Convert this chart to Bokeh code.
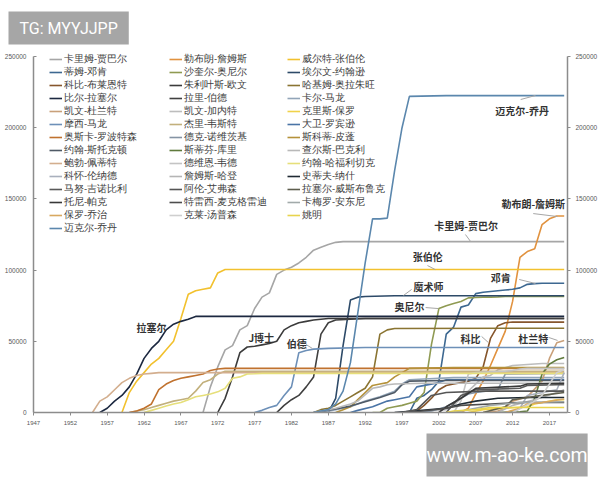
from bokeh.plotting import figure
from bokeh.models import (Range1d, LinearAxis, FixedTicker, Legend, LegendItem,
                          Label, Title, BasicTickFormatter)
from bokeh.embed import file_html
from bokeh.resources import INLINE

# ---------------- data ----------------
players = [
    "卡里姆-贾巴尔", "勒布朗-詹姆斯", "威尔特-张伯伦",
    "蒂姆-邓肯", "沙奎尔-奥尼尔", "埃尔文-约翰逊",
    "科比-布莱恩特", "朱利叶斯-欧文", "哈基姆-奥拉朱旺",
    "比尔-拉塞尔", "拉里-伯德", "卡尔-马龙",
    "凯文-杜兰特", "凯文-加内特", "克里斯-保罗",
    "摩西-马龙", "杰里-韦斯特", "大卫-罗宾逊",
    "奥斯卡-罗波特森", "德克-诺维茨基", "斯科蒂-皮蓬",
    "约翰-斯托克顿", "斯蒂芬-库里", "查尔斯-巴克利",
    "鲍勃-佩蒂特", "德维恩-韦德", "约翰-哈福利切克",
    "科怀-伦纳德", "詹姆斯-哈登", "史蒂夫-纳什",
    "马努-吉诺比利", "阿伦-艾弗森", "拉塞尔-威斯布鲁克",
    "托尼-帕克", "特雷西-麦克格雷迪", "卡梅罗-安东尼",
    "保罗-乔治", "克莱-汤普森", "姚明",
    "迈克尔-乔丹",
]

series_years = [
    [1970, 1971, 1972, 1973, 1974, 1975, 1976, 1977, 1978, 1979, 1980, 1981, 1982, 1983, 1984, 1985, 1986, 1987, 1988, 1989, 2019],
    [2004, 2005, 2006, 2007, 2008, 2009, 2010, 2011, 2012, 2013, 2014, 2015, 2016, 2017, 2018, 2019],
    [1959, 1960, 1961, 1962, 1963, 1964, 1965, 1966, 1967, 1968, 1969, 1970, 1971, 1972, 1973, 2019],
    [1998, 1999, 2000, 2001, 2002, 2003, 2004, 2005, 2006, 2007, 2008, 2009, 2010, 2011, 2012, 2013, 2014, 2015, 2016, 2019],
    [1993, 1994, 1995, 1996, 1997, 1998, 1999, 2000, 2001, 2002, 2003, 2004, 2005, 2006, 2007, 2008, 2009, 2010, 2011, 2019],
    [1987, 1988, 1989, 1990, 1991, 1992, 1996, 2019],
    [1997, 1998, 1999, 2000, 2001, 2002, 2003, 2004, 2005, 2006, 2007, 2008, 2009, 2010, 2011, 2012, 2019],
    [1972, 1973, 1974, 1975, 1976, 1977, 1978, 1979, 1980, 1981, 1982, 1983, 1984, 1985, 1986, 1987, 2019],
    [1985, 1986, 1987, 1988, 1989, 1990, 1991, 1992, 1993, 1994, 1995, 1996, 2019],
    [1956, 1957, 1958, 1959, 1960, 1961, 1962, 1963, 1964, 1965, 1966, 1967, 1968, 1969, 2019],
    [1980, 1981, 1982, 1983, 1984, 1985, 1986, 1987, 1988, 1992, 2019],
    [1986, 1988, 1990, 1992, 1994, 1996, 1997, 1998, 2000, 2004, 2019],
    [2008, 2010, 2011, 2012, 2014, 2016, 2017, 2018, 2019],
    [1996, 2003, 2004, 2008, 2009, 2010, 2012, 2016, 2019],
    [2006, 2008, 2014, 2015, 2018, 2019],
    [1977, 1978, 1979, 1980, 1981, 1982, 1983, 1984, 1985, 1987, 1992, 2019],
    [1960, 1961, 1962, 1963, 1964, 1965, 1966, 1967, 1968, 1969, 1970, 1971, 1972, 1973, 1974, 2019],
    [1990, 1991, 1993, 1995, 1996, 1998, 1999, 2002, 2003, 2019],
    [1960, 1961, 1962, 1963, 1964, 1965, 1966, 1967, 1968, 1969, 1970, 1971, 1972, 1973, 1974, 2019],
    [1999, 2001, 2003, 2006, 2007, 2010, 2011, 2019],
    [1988, 1989, 1990, 1991, 1992, 1993, 1994, 1995, 1996, 1997, 1998, 2004, 2019],
    [1985, 1988, 1990, 1992, 1994, 1996, 1997, 1998, 2003, 2019],
    [2010, 2013, 2014, 2015, 2016, 2017, 2018, 2019],
    [1985, 1986, 1988, 1990, 1991, 1993, 1994, 1995, 1996, 2000, 2019],
    [1955, 1956, 1957, 1958, 1959, 1960, 1961, 1962, 1963, 1964, 1965, 2019],
    [2004, 2005, 2006, 2007, 2011, 2012, 2013, 2014, 2019],
    [1962, 1963, 1964, 1965, 1966, 1967, 1968, 1969, 1970, 1971, 1972, 1973, 1974, 1975, 1976, 1977, 1978, 2019],
    [2012, 2013, 2014, 2017, 2018, 2019],
    [2010, 2012, 2015, 2018, 2019],
    [1996, 2003, 2005, 2007, 2010, 2014, 2019],
    [2003, 2005, 2007, 2013, 2014, 2018, 2019],
    [1997, 1999, 2001, 2003, 2008, 2019],
    [2008, 2011, 2012, 2016, 2019],
    [2002, 2003, 2005, 2007, 2013, 2014, 2019],
    [1998, 2003, 2005, 2009, 2013, 2019],
    [2004, 2009, 2013, 2019],
    [2011, 2013, 2014, 2016, 2019],
    [2012, 2015, 2016, 2017, 2018, 2019],
    [2003, 2004, 2007, 2009, 2011, 2019],
    [1985, 1986, 1987, 1988, 1989, 1990, 1991, 1992, 1993, 1994, 1995, 1996, 1997, 1998, 2003, 2019],
]

series_values = [
    [0, 18000, 32000, 44000, 47000, 58000, 61000, 73000, 81000, 84000, 97000, 100000, 102000, 105000, 109000, 114000, 116000, 118000, 119500, 120000, 120000],
    [0, 0, 3000, 13000, 22000, 33000, 45000, 57000, 78000, 109000, 113000, 115000, 132000, 136000, 138000, 138000],
    [0, 14000, 22000, 28000, 34000, 38000, 44000, 50000, 66000, 83000, 85500, 86500, 87500, 98000, 100400, 100400],
    [0, 10000, 12000, 16000, 22000, 55000, 60000, 74000, 75500, 83500, 84500, 85000, 85500, 86000, 86500, 87500, 90000, 90500, 90800, 90800],
    [0, 0, 3000, 4000, 5000, 6500, 8000, 14000, 48000, 73000, 75000, 76500, 78000, 80500, 80800, 81000, 81000, 81200, 81500, 81500],
    [0, 10000, 47000, 79000, 81000, 81500, 82000, 82000],
    [0, 0, 1000, 5000, 10000, 16000, 19000, 20000, 21000, 22000, 24000, 32000, 52000, 61000, 63000, 63500, 63500],
    [0, 10000, 25000, 42000, 46000, 46500, 47500, 48500, 50000, 58000, 61000, 63000, 64000, 65000, 65500, 66000, 66000],
    [0, 2000, 3000, 5000, 8000, 11000, 14000, 17000, 25000, 55000, 58000, 59000, 59200],
    [0, 3000, 8000, 12000, 18000, 27000, 38000, 45000, 50000, 58000, 62000, 64000, 65500, 67500, 67500],
    [0, 5000, 9000, 12000, 18000, 25000, 55000, 63000, 65000, 66000, 66000],
    [0, 2000, 4000, 8000, 11000, 15000, 20000, 23000, 23500, 24500, 24500],
    [0, 1000, 3000, 8000, 11000, 22000, 38000, 49000, 50500],
    [0, 2000, 5000, 25000, 26000, 30000, 33000, 34400, 34400],
    [0, 2000, 4000, 6000, 9000, 9000],
    [0, 1500, 3500, 5000, 12000, 18000, 42000, 43500, 44500, 45000, 45600, 45600],
    [0, 1000, 2000, 3500, 5000, 6500, 8000, 9000, 10000, 15000, 21000, 23000, 27000, 29000, 29000, 29000],
    [0, 1500, 4000, 8000, 9000, 11000, 18000, 21000, 23000, 23000],
    [0, 1000, 3000, 6000, 16000, 20000, 22500, 24000, 25000, 26000, 27000, 29500, 30500, 31000, 31000, 31000],
    [0, 1000, 4000, 13000, 14000, 16000, 27000, 27500],
    [0, 2000, 4000, 9000, 14000, 19000, 20000, 21000, 25000, 28000, 31000, 31500, 31500],
    [0, 2500, 4500, 7500, 10500, 14000, 19500, 22000, 22500, 22500],
    [0, 500, 1000, 10000, 27000, 34000, 37000, 38600],
    [0, 1000, 3000, 6000, 8000, 17000, 18000, 19500, 20000, 20500, 20500],
    [0, 8000, 11000, 16000, 21000, 24000, 26000, 27000, 27500, 28000, 28000, 28000],
    [0, 8000, 27000, 28000, 29000, 29500, 30500, 31000, 31000],
    [0, 1500, 3000, 4500, 6000, 7000, 9000, 11000, 12000, 13000, 14500, 17000, 24000, 25000, 27000, 27200, 27500, 27500],
    [0, 3000, 12000, 15000, 16000, 28000],
    [0, 5000, 9000, 14000, 16000],
    [0, 3000, 6000, 8000, 10000, 10500, 10500],
    [0, 12000, 16000, 17000, 19000, 19500, 19500],
    [0, 2000, 12000, 14000, 15000, 15000],
    [0, 4000, 9000, 12000, 14000],
    [0, 4000, 10000, 17000, 18500, 20000, 20500],
    [0, 3000, 5000, 6000, 7000, 7000],
    [0, 5000, 7000, 7500],
    [0, 3000, 6000, 7000, 9500],
    [0, 8000, 12000, 20000, 28000, 30000],
    [0, 1000, 2000, 3500, 3500, 3500],
    [0, 1000, 2000, 6000, 15000, 35000, 70000, 105000, 136000, 136000, 136500, 170000, 200000, 222000, 222500, 222500],
]

year_ticks = [1947, 1952, 1957, 1962, 1967, 1972, 1977, 1982, 1987, 1992, 1997, 2002, 2007, 2012, 2017]
value_ticks = [0, 50000, 100000, 150000, 200000, 250000]

# chart annotations (text, year, value)
notes = ["迈克尔-乔丹", "勒布朗-詹姆斯", "卡里姆-贾巴尔", "张伯伦", "邓肯", "魔术师",
         "奥尼尔", "拉塞尔", "J博士", "伯德", "科比", "杜兰特"]
note_years = [2013.3, 2014.8, 2005.7, 2000.5, 2010.4, 2000.6, 1998.0, 1963.0, 1977.9, 1982.7, 2006.3, 2014.8]
note_values = [212000, 146800, 131300, 109500, 94800, 88500, 74400, 59700, 52700, 48500, 52000, 52000]
lead_x0 = [2013.1, 2014.8, 2005.6, 2000.45, 2012.9, 1998.3, 2000.2, 1984.0, 2007.8, 2016.9]
lead_y0 = [219800, 139700, 125000, 103200, 93400, 86400, 73700, 47700, 53400, 52700]
lead_x1 = [2015.1, 2018.1, 2006.3, 2001.5, 2015.1, 1997.2, 2001.9, 1984.85, 2008.7, 2018.1]
lead_y1 = [222600, 137600, 120100, 100400, 90600, 82200, 73000, 44900, 49200, 50600]

# ---------------- styles ----------------
colors = [
    "#a6a6a6", "#e1923f", "#f2c12e",
    "#3d6891", "#8f9a52", "#2d4a68",
    "#86562c", "#3b3b3b", "#8a7432",
    "#1c2840", "#404040", "#92a5b8",
    "#c9a07a", "#bdbdbd", "#f0d24a",
    "#6d90b8", "#c2b07c", "#4a74a6",
    "#c0722f", "#8594a4", "#b5923a",
    "#4f5a66", "#5f7a3c", "#b9b9b9",
    "#d3ae8e", "#c4c4c4", "#e6df7a",
    "#a9b0bd", "#b5b5b5", "#1f2a33",
    "#595959", "#555555", "#5e5e4e",
    "#383838", "#4d4d4d", "#a2aaaa",
    "#d8a860", "#cfcfcf", "#e8d44d",
    "#5b87ad",
]

CJK = "Noto Sans CJK SC"
AX = "#8c8c8c"
Y_TOP = 250000 * 364 / 356   # frame extends a little above the 250000 tick

p = figure(width=600, height=480, output_backend="svg", toolbar_location=None,
           x_range=Range1d(1947, 2019.45), y_range=Range1d(0, Y_TOP),
           min_border_left=33, min_border_right=33, min_border_top=48,
           min_border_bottom=68)
p.xgrid.visible = False
p.ygrid.visible = False
p.outline_line_color = None
p.background_fill_color = "white"
p.border_fill_color = "white"

def style_axis(ax, tick_in, tick_out, size, standoff):
    ax.axis_line_color = AX
    ax.axis_line_width = 1.5
    ax.major_tick_line_color = AX
    ax.major_tick_in = tick_in
    ax.major_tick_out = tick_out
    ax.minor_tick_line_color = None
    ax.major_label_text_font = "Liberation Sans"
    ax.major_label_text_font_size = size
    ax.major_label_text_color = "#595959"
    ax.major_label_standoff = standoff

yl = p.yaxis[0]
yl.ticker = FixedTicker(ticks=value_ticks)
yl.formatter = BasicTickFormatter(use_scientific=False)
yl.bounds = (0, 250000)
style_axis(yl, 3, 0, "6.5px", 7)

yr = LinearAxis(ticker=FixedTicker(ticks=value_ticks),
                formatter=BasicTickFormatter(use_scientific=False), bounds=(0, 250000))
style_axis(yr, 0, 3, "6.5px", 5)
p.add_layout(yr, "right")

xb = p.xaxis[0]
xb.ticker = FixedTicker(ticks=year_ticks)
xb.formatter = BasicTickFormatter(use_scientific=False)
style_axis(xb, 0, 3, "6px", 5)

renderers = []
for name, c, ys, vs in zip(players, colors, series_years, series_values):
    r = p.line(ys, vs, line_color=c, line_width=1.6)
    renderers.append(r)

legend_x = [16, 136, 254]
legend_y = [177.5, 190.5, 190.5]
for ci in range(3):
    items = [LegendItem(label=players[i], renderers=[renderers[i]]) for i in range(ci, len(players), 3)]
    lg = Legend(items=items, location=(legend_x[ci], legend_y[ci]),
                orientation="vertical", background_fill_alpha=0, border_line_alpha=0,
                padding=0, margin=0, spacing=0, glyph_width=13, glyph_height=12,
                label_height=12, label_standoff=2, label_text_font="Liberation Sans",
                label_text_font_size="9.5px", label_text_color="#404040")
    p.add_layout(lg)

p.segment(x0=lead_x0, y0=lead_y0, x1=lead_x1, y1=lead_y1, line_color="#a6a6a6", line_width=1)

for t, xv, yv in zip(notes, note_years, note_values):
    p.add_layout(Label(x=xv, y=yv, text=t, text_font=CJK, text_font_size="10px",
                       text_font_style="bold", text_color="#333333",
                       text_align="center", text_baseline="middle"))

p.add_layout(Title(text="TG: MYYJJPP", align="left", offset=-25, standoff=8,
                   text_font="Roboto", text_font_size="16px", text_font_style="normal",
                   text_color="white", background_fill_color="#a6a6a6", padding=(11, 7)), "above")
p.add_layout(Title(text="www.m-ao-ke.com", align="left", offset=393, standoff=8,
                   text_font="Roboto", text_font_size="19.5px", text_font_style="normal",
                   text_color="white", background_fill_color="#a6a6a6", padding=(0, 10)), "below")

open("out.html", "w").write(file_html(p, INLINE))
